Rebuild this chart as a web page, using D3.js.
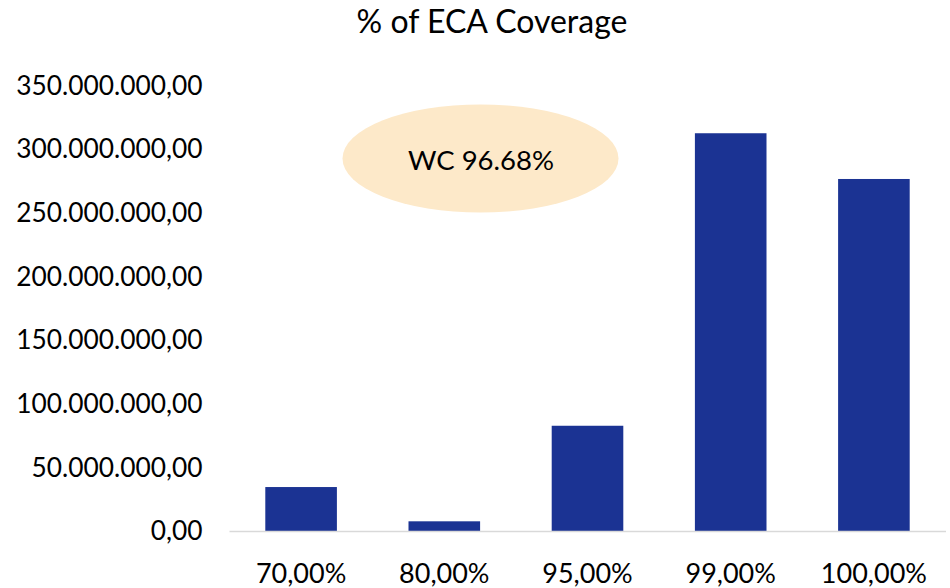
<!DOCTYPE html>
<html>
<head>
<meta charset="utf-8">
<script src="https://cdn.jsdelivr.net/npm/d3@7"></script>
<style>
  body { margin: 0; background: #fff; }
  text { font-family: Lato, "Open Sans", sans-serif; fill: #000; }
</style>
</head>
<body>
<script>
// chart data
var categories = ["70,00%", "80,00%", "95,00%", "99,00%", "100,00%"];
var values = [34900000, 8000000, 83000000, 312600000, 276700000];
var yTicks = [0, 50000000, 100000000, 150000000, 200000000, 250000000, 300000000, 350000000];
var chartTitle = "% of ECA Coverage";
var noteText = "WC 96.68%";

var width = 950, height = 588;
var margin = {top: 85.6, right: 4.5, bottom: 56.5, left: 229.5};

var svg = d3.select("body").append("svg")
  .attr("width", width)
  .attr("height", height);

var xScale = d3.scaleBand()
  .domain(categories)
  .range([margin.left, width - margin.right])
  .paddingInner(0.5)
  .paddingOuter(0.25);

var yScale = d3.scaleLinear()
  .domain([0, 350000000])
  .range([height - margin.bottom, margin.top]);

// format like 350.000.000,00
var locale = d3.formatLocale({decimal: ",", thousands: ".", grouping: [3], currency: ["", ""]});
var fmt = locale.format(",.2f");

svg.append("text")
  .attr("x", 492)
  .attr("y", 33)
  .attr("text-anchor", "middle")
  .style("font-size", "32px")
  .text(chartTitle);

// y labels, no axis line
var yAxis = svg.append("g")
  .attr("transform", "translate(" + margin.left + ",0)")
  .call(d3.axisLeft(yScale).tickValues(yTicks).tickFormat(fmt).tickSize(0).tickPadding(27));
yAxis.select(".domain").remove();
yAxis.selectAll("text").style("font-size", "26.3px").style("font-family", "Lato, sans-serif").attr("fill", "#000");

svg.selectAll(".bar")
  .data(values)
  .enter().append("rect")
  .attr("class", "bar")
  .attr("x", function(d, i) { return xScale(categories[i]); })
  .attr("width", xScale.bandwidth())
  .attr("y", function(d) { return yScale(d); })
  .attr("height", function(d) { return yScale(0) - yScale(d); })
  .attr("fill", "#1b3393");

// x axis baseline
var xAxis = svg.append("g")
  .attr("transform", "translate(0," + yScale(0) + ")")
  .call(d3.axisBottom(xScale).tickSize(0));
xAxis.select(".domain").attr("stroke", "#d9d9d9").attr("stroke-width", 1.5)
  .attr("d", "M" + margin.left + ",0H" + (width - margin.right + 0.5));
xAxis.selectAll("text").style("font-size", "27px").style("font-family", "Lato, sans-serif").attr("fill", "#000")
  .attr("y", 51.5).attr("dy", "0");

// annotation bubble
svg.append("ellipse")
  .attr("cx", 480.5)
  .attr("cy", 158.5)
  .attr("rx", 138)
  .attr("ry", 54)
  .attr("fill", "#fde9c9");

svg.append("text")
  .attr("x", 481)
  .attr("y", 160)
  .attr("dy", "0.35em")
  .attr("text-anchor", "middle")
  .style("font-size", "27.5px")
  .text(noteText);
</script>
</body>
</html>
